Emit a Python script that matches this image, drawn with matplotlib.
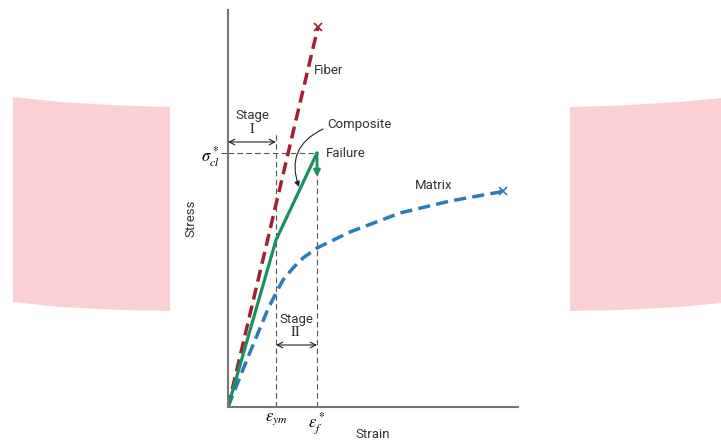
import matplotlib
matplotlib.use("Agg")
import matplotlib.pyplot as plt
from matplotlib.patches import Polygon

plt.rcParams['font.family'] = ['Roboto', 'DejaVu Sans']
plt.rcParams['mathtext.fontset'] = 'stix'

# ---- data (arbitrary strain / stress units) ----
fiber_strain = [0, 90]
fiber_stress = [0, 380]

composite_strain = [0, 48, 89]
composite_stress = [0, 167, 254]
composite_drop_stress = 230

matrix_strain = [0, 20, 40, 48, 55, 65, 75, 89, 122, 172, 222, 272, 275]
matrix_stress = [0, 50, 98, 114, 127, 139, 149, 159, 175, 194, 206, 215, 216]

eps_ym = 48
eps_f = 89
sigma_cl = 254

xtick_labels = [r'$\epsilon_{ym}$', r'$\epsilon_f^*$']
ytick_labels = [r'$\sigma_{cl}^*$']

# ---- figure ----
fig = plt.figure(figsize=(7.21, 4.42), dpi=100)
W, H = 721, 442

def fpoly(pts):
    return [(x / W, 1 - y / H) for x, y in pts]

pink = '#fcd0d3'
fig.patches.append(Polygon(fpoly([(13, 97), (60, 102), (120, 105.5), (170, 107), (170, 311), (120, 310), (60, 307), (13, 302)]),
                           closed=True, transform=fig.transFigure, facecolor=pink, edgecolor='none', zorder=0))
fig.patches.append(Polygon(fpoly([(570, 107), (620, 105.5), (680, 102), (721, 98), (721, 303), (680, 307), (620, 310), (570, 311)]),
                           closed=True, transform=fig.transFigure, facecolor=pink, edgecolor='none', zorder=0))

ax = fig.add_axes([228 / W, 1 - 407 / H, 290 / W, 397 / H])
ax.set_facecolor('none')
ax.set_xlim(0, 290)
ax.set_ylim(0, 397)
for s in ['top', 'right']:
    ax.spines[s].set_visible(False)
for s in ['left', 'bottom']:
    ax.spines[s].set_color('#777777')
    ax.spines[s].set_linewidth(1.5)

red = '#a51f33'
green = '#1b8f5f'
blue = '#2b7bb6'
guide = '#555555'

# guide lines
ax.plot([eps_ym, eps_ym], [0, 274], ls=(0, (5, 3)), color=guide, lw=0.8)
ax.plot([eps_f, eps_f], [0, sigma_cl], ls=(0, (5, 3)), color=guide, lw=0.8)
ax.plot([0, eps_f], [sigma_cl, sigma_cl], ls=(0, (5, 3)), color=guide, lw=0.8)

# curves
ax.plot(matrix_strain, matrix_stress, ls=(0, (3.5, 1.8)), color=blue, lw=2.5)
ax.plot(matrix_strain[-1], matrix_stress[-1], marker='x', color=blue, ms=6, mew=1.2)
ax.plot(fiber_strain, fiber_stress, ls=(0, (3.5, 1.8)), color=red, lw=2.5)
ax.plot(fiber_strain[-1], fiber_stress[-1], marker='x', color=red, ms=6, mew=1.2)
ax.plot(composite_strain, composite_stress, color=green, lw=2.3, solid_capstyle='round')
ax.annotate('', xy=(eps_f, composite_drop_stress), xytext=(eps_f, sigma_cl),
            arrowprops=dict(arrowstyle='-|>', color=green, lw=2, mutation_scale=9, shrinkA=0, shrinkB=0))

# stage arrows
ax.annotate('', xy=(0, 265), xytext=(eps_ym, 265),
            arrowprops=dict(arrowstyle='<->', color='#222222', lw=0.8, shrinkA=0, shrinkB=0, mutation_scale=10))
ax.annotate('', xy=(eps_ym, 62), xytext=(eps_f, 62),
            arrowprops=dict(arrowstyle='<->', color='#222222', lw=0.8, shrinkA=0, shrinkB=0, mutation_scale=10))

txt = dict(color='#333333', fontsize=9.5)
ax.text(24, 291, 'Stage', ha='center', va='center', **txt)
ax.text(24, 278, r'$\mathrm{I}$', ha='center', va='center', color='#333333', fontsize=10.5)
ax.text(68, 88, 'Stage', ha='center', va='center', **txt)
ax.text(68, 75, r'$\mathrm{II}$', ha='center', va='center', color='#333333', fontsize=10.5)
ax.text(101, 336, 'Fiber', ha='center', va='center', **txt)
ax.text(99, 282, 'Composite', ha='left', va='center', **txt)
ax.text(98, 253, 'Failure', ha='left', va='center', **txt)
ax.text(206, 221, 'Matrix', ha='center', va='center', **txt)
ax.annotate('', xy=(71, 220), xytext=(95, 278),
            arrowprops=dict(arrowstyle='-|>', color='#222222', lw=0.8, shrinkA=0, shrinkB=0,
                            mutation_scale=8, connectionstyle='arc3,rad=0.45'))

ax.set_xticks([eps_ym, eps_f], xtick_labels, fontsize=12)
ax.set_yticks([sigma_cl], ytick_labels, fontsize=12)
ax.tick_params(axis='x', length=0, pad=3)
ax.tick_params(axis='y', length=5, color='#555555', width=0.8, pad=1)

ax.set_xlabel('Strain', fontsize=9.5, color='#333333', labelpad=0)
ax.xaxis.set_label_coords(0.5, -0.054)
ax.set_ylabel('Stress', fontsize=9.5, color='#333333')
ax.yaxis.set_label_coords(-0.105, 0.476)

fig.savefig('out.png', dpi=100)
